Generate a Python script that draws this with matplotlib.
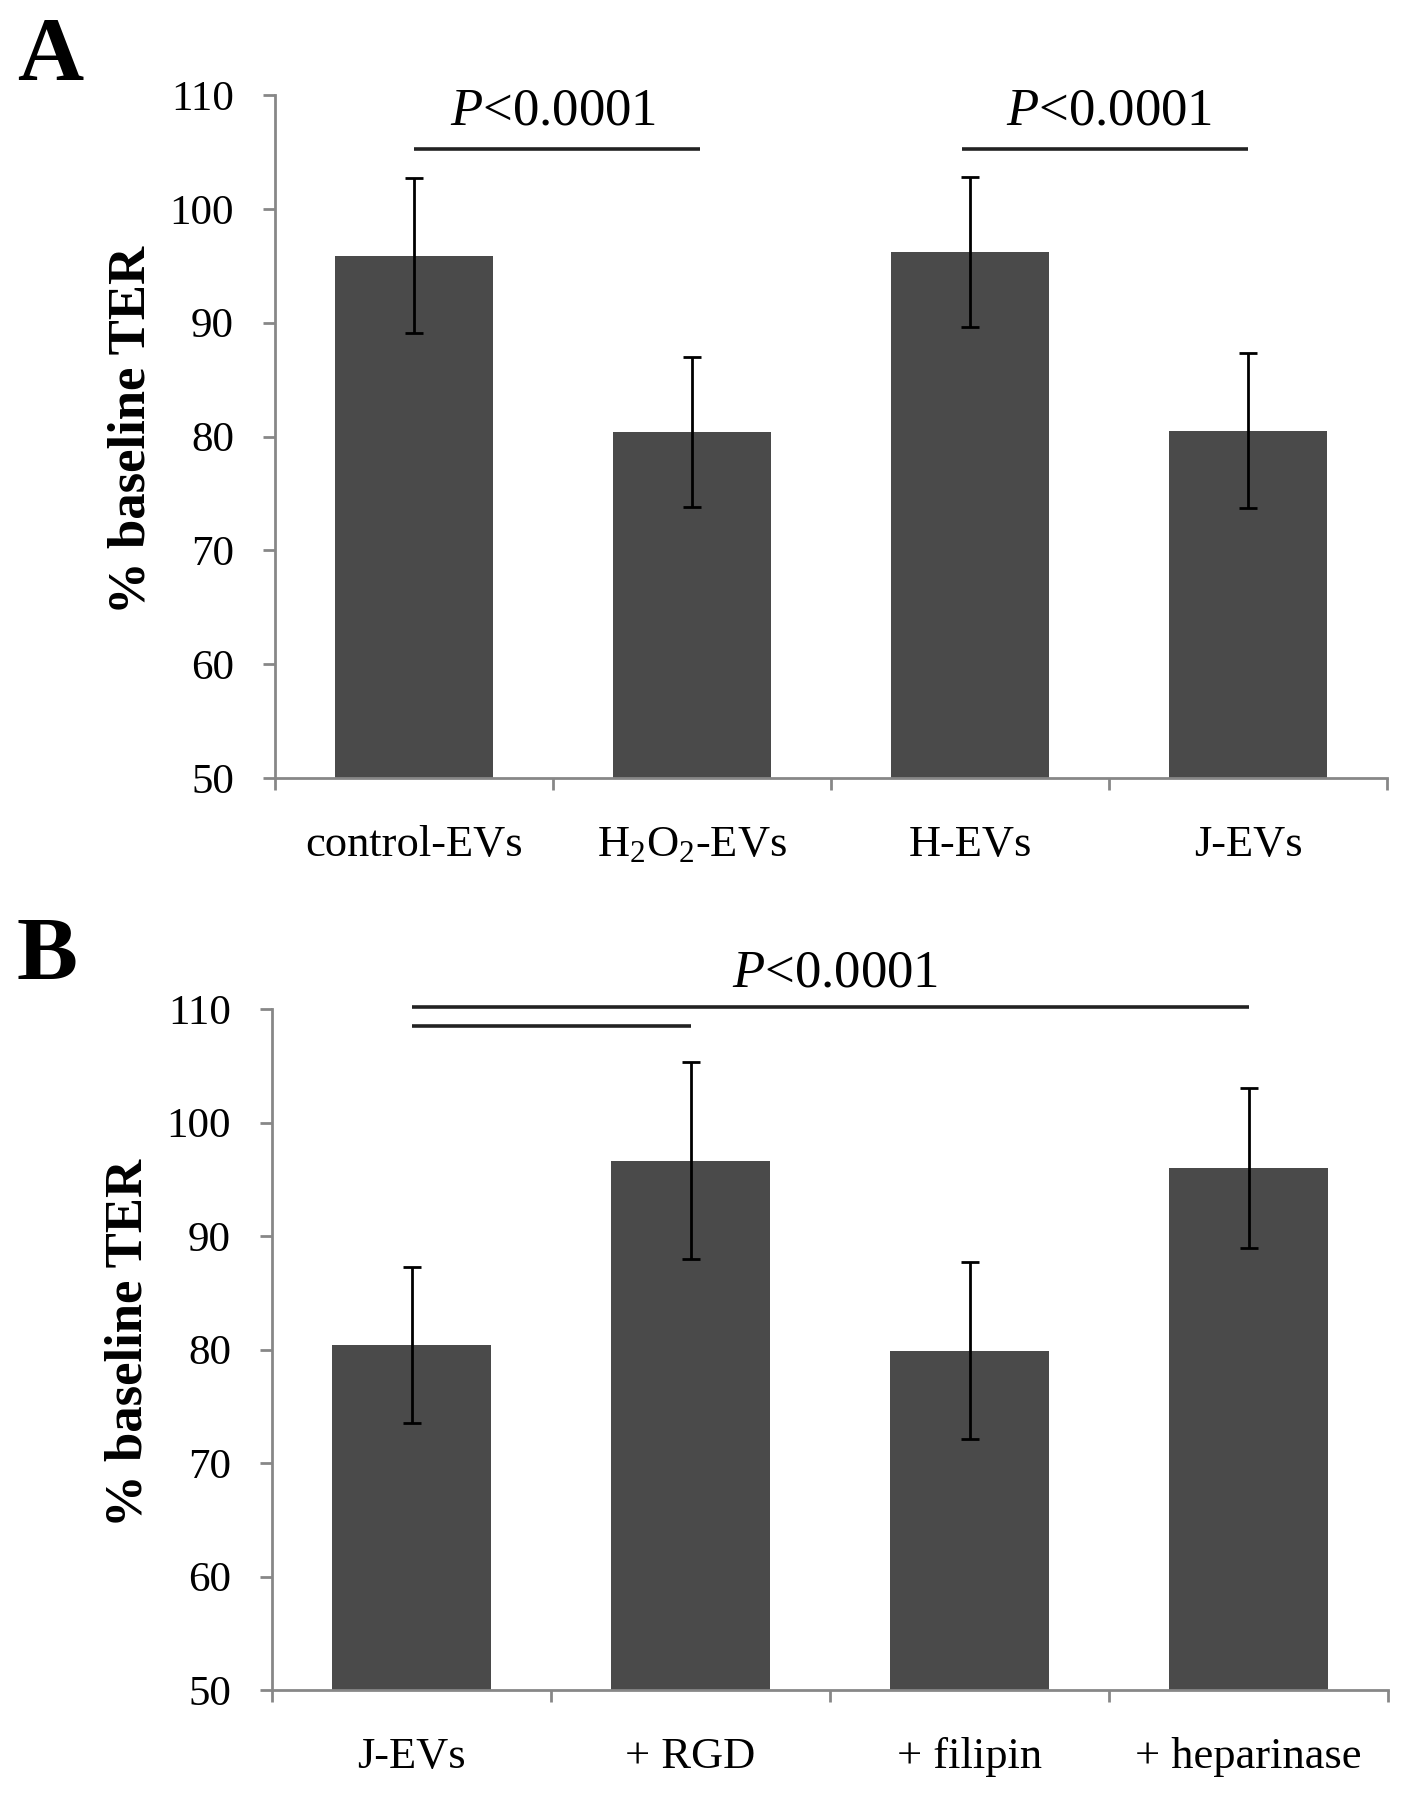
import matplotlib
matplotlib.use('Agg')
import matplotlib.pyplot as plt
from matplotlib.ticker import FixedLocator

plt.rcParams['font.family'] = ['Liberation Serif', 'DejaVu Serif']
plt.rcParams['mathtext.fontset'] = 'custom'
plt.rcParams['mathtext.rm'] = 'Liberation Serif'
plt.rcParams['mathtext.it'] = 'Liberation Serif:italic'
plt.rcParams['mathtext.bf'] = 'Liberation Serif:bold'

# panel A
labels_a = ['control-EVs', r'H$_2$O$_2$-EVs', 'H-EVs', 'J-EVs']
means_a = [95.9, 80.4, 96.2, 80.5]
errs_a = [6.8, 6.6, 6.6, 6.8]
brackets_a = [(0.0, 1.03, 105.3), (1.97, 3.0, 105.3)]
ptext_a = [(0.5, 107.4), (2.5, 107.4)]

# panel B
labels_b = ['J-EVs', '+ RGD', '+ filipin', '+ heparinase']
means_b = [80.4, 96.65, 79.9, 96.0]
errs_b = [6.85, 8.65, 7.8, 7.05]
brackets_b = [(0.0, 3.0, 110.2), (0.0, 1.0, 108.5)]
ptext_b = [(1.52, 112.0)]

bar_color = '#4a4a4a'
spine_color = '#878787'


def panel(ax, labels, means, errs, brackets, ptexts):
    x = list(range(len(labels)))
    ax.bar(x, means, width=0.57, color=bar_color, zorder=2)
    ax.errorbar(x, means, yerr=errs, fmt='none', ecolor='black',
                elinewidth=2, capsize=6.5, capthick=2, zorder=3)
    ax.set_xlim(-0.5, 3.5)
    ax.set_ylim(50, 110)
    ax.set_yticks(range(50, 111, 10))
    ax.tick_params(axis='y', labelsize=31, length=8.6, width=2,
                   color=spine_color, pad=21)
    # category boundaries get the ticks, centers get the labels
    ax.xaxis.set_major_locator(FixedLocator([-0.5, 0.5, 1.5, 2.5, 3.5]))
    ax.xaxis.set_minor_locator(FixedLocator(x))
    ax.set_xticklabels([], minor=False)
    ax.set_xticklabels(labels, minor=True)
    ax.tick_params(axis='x', which='major', length=8.6, width=2,
                   color=spine_color)
    ax.tick_params(axis='x', which='minor', length=0, labelsize=32, pad=34)
    for s in ['top', 'right']:
        ax.spines[s].set_visible(False)
    for s in ['left', 'bottom']:
        ax.spines[s].set_color(spine_color)
        ax.spines[s].set_linewidth(2)
    for x0, x1, y in brackets:
        ax.plot([x0, x1], [y, y], color='#222222', lw=2.6, clip_on=False,
                solid_capstyle='butt')
    for tx, ty in ptexts:
        ax.text(tx, ty, r'$P$<0.0001', fontsize=38, ha='center',
                va='baseline', clip_on=False)
    ax.text(-0.129, 0.51, '% baseline TER', transform=ax.transAxes,
            rotation=90, fontsize=38, fontweight='bold', ha='center',
            va='center')


fig = plt.figure(figsize=(14.08, 18), dpi=100)
ax_a = fig.add_axes([275 / 1408, 1 - 778 / 1800, 1112 / 1408, 683 / 1800])
ax_b = fig.add_axes([272 / 1408, 1 - 1690 / 1800, 1116 / 1408, 681 / 1800])

panel(ax_a, labels_a, means_a, errs_a, brackets_a, ptext_a)
panel(ax_b, labels_b, means_b, errs_b, brackets_b, ptext_b)

fig.text(17 / 1408, 1 - 80 / 1800, 'A', fontsize=66, fontweight='bold',
         va='baseline', ha='left')
fig.text(17 / 1408, 1 - 980 / 1800, 'B', fontsize=66, fontweight='bold',
         va='baseline', ha='left')

fig.savefig('out.png', dpi=100)
